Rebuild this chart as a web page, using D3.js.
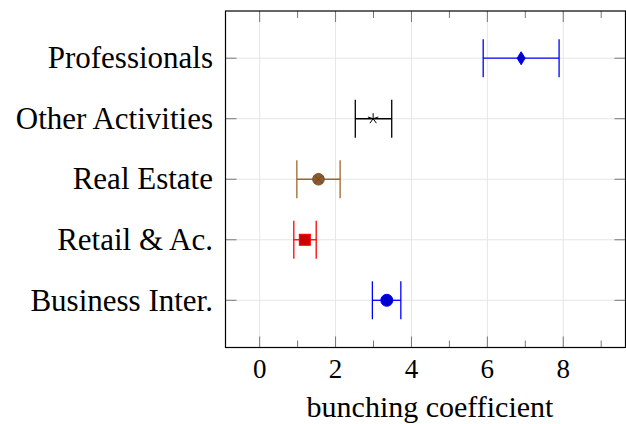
<!DOCTYPE html>
<html lang="en">
  <head>
    <meta charset="UTF-8" />
    <script src="https://d3js.org/d3.v7.min.js"></script>
    <title>bunching coefficient</title>
    <style>
      body { margin: 0; background: #fff; }
    </style>
  </head>
  <body>
    <script>
      // data, bottom to top
      var categories = ['Business Inter.', 'Retail & Ac.', 'Real Estate', 'Other Activities', 'Professionals']
      var estimates = [3.35, 1.19, 1.55, 2.99, 6.89]
      var lower = [2.97, 0.90, 0.98, 2.52, 5.89]
      var upper = [3.72, 1.49, 2.12, 3.48, 7.89]
      var colors = ['#0000ff', '#ff0000', '#a0652e', '#000000', '#0000ff']
      var fills = ['#0000cc', '#cc0000', '#8c5a2b', '#000000', '#0000cc']
      var markers = ['circle', 'square', 'otimes', 'star', 'diamond']
      var xTicks = [0, 2, 4, 6, 8]

      var width = 626
      var height = 424
      var pL = 225.5, pR = 625.5, pT = 11, pB = 347.5
      var serif = "'Liberation Serif', 'DejaVu Serif', serif"

      var svg = d3.select('body').append('svg')
        .attr('width', width).attr('height', height)
        .attr('font-family', serif)

      var x = d3.scaleLinear().domain([-0.9, 9.64]).range([pL, pR])
      var y = d3.scaleLinear().domain([0.22, 5.78]).range([pB, pT])

      var grid = svg.append('g').attr('stroke', '#e6e6e6').attr('stroke-width', 1)
      grid.selectAll('line.gx').data(xTicks).enter().append('line')
        .attr('x1', function (d) { return x(d) }).attr('x2', function (d) { return x(d) })
        .attr('y1', pT).attr('y2', pB)
      grid.selectAll('line.gy').data(categories).enter().append('line')
        .attr('y1', function (d, i) { return y(i + 1) }).attr('y2', function (d, i) { return y(i + 1) })
        .attr('x1', pL).attr('x2', pR)

      // ticks drawn inward on all four sides
      var minor = [1, 3, 5, 7, 9]
      var tk = svg.append('g').attr('stroke', '#777').attr('stroke-width', 1)
      xTicks.forEach(function (d) {
        tk.append('line').attr('x1', x(d)).attr('x2', x(d)).attr('y1', pB).attr('y2', pB - 11)
        tk.append('line').attr('x1', x(d)).attr('x2', x(d)).attr('y1', pT).attr('y2', pT + 11)
      })
      minor.forEach(function (d) {
        tk.append('line').attr('x1', x(d)).attr('x2', x(d)).attr('y1', pB).attr('y2', pB - 7)
        tk.append('line').attr('x1', x(d)).attr('x2', x(d)).attr('y1', pT).attr('y2', pT + 7)
      })
      categories.forEach(function (d, i) {
        tk.append('line').attr('x1', pL).attr('x2', pL + 11).attr('y1', y(i + 1)).attr('y2', y(i + 1))
        tk.append('line').attr('x1', pR).attr('x2', pR - 11).attr('y1', y(i + 1)).attr('y2', y(i + 1))
      })

      svg.append('rect')
        .attr('x', pL).attr('y', pT)
        .attr('width', pR - pL).attr('height', pB - pT)
        .attr('fill', 'none').attr('stroke', '#000').attr('stroke-width', 1.2)

      // tick labels
      svg.selectAll('text.xt').data(xTicks).enter().append('text')
        .attr('x', function (d) { return x(d) })
        .attr('y', 378)
        .attr('text-anchor', 'middle')
        .attr('font-size', 27)
        .text(function (d) { return d })

      svg.selectAll('text.yt').data(categories).enter().append('text')
        .attr('x', 213)
        .attr('y', function (d, i) { return y(i + 1) })
        .attr('dy', '0.33em')
        .attr('text-anchor', 'end')
        .attr('font-size', 31)
        .text(function (d) { return d })

      svg.append('text')
        .attr('x', 430)
        .attr('y', 417)
        .attr('text-anchor', 'middle')
        .attr('font-size', 30)
        .text('bunching coefficient')

      // error bars
      var eb = svg.append('g').selectAll('g').data(categories).enter().append('g')
        .attr('stroke', function (d, i) { return colors[i] })
        .attr('stroke-width', 1.3)
      eb.append('line')
        .attr('x1', function (d, i) { return x(lower[i]) })
        .attr('x2', function (d, i) { return x(upper[i]) })
        .attr('y1', function (d, i) { return y(i + 1) })
        .attr('y2', function (d, i) { return y(i + 1) })
      eb.append('line')
        .attr('x1', function (d, i) { return x(lower[i]) })
        .attr('x2', function (d, i) { return x(lower[i]) })
        .attr('y1', function (d, i) { return y(i + 1) - 19 })
        .attr('y2', function (d, i) { return y(i + 1) + 19 })
      eb.append('line')
        .attr('x1', function (d, i) { return x(upper[i]) })
        .attr('x2', function (d, i) { return x(upper[i]) })
        .attr('y1', function (d, i) { return y(i + 1) - 19 })
        .attr('y2', function (d, i) { return y(i + 1) + 19 })

      // markers
      categories.forEach(function (d, i) {
        var cx = x(estimates[i]), cy = y(i + 1)
        var g = svg.append('g').attr('transform', 'translate(' + cx + ',' + cy + ')')
        var m = markers[i]
        if (m === 'circle') {
          g.append('circle').attr('r', 6).attr('fill', fills[i]).attr('stroke', colors[i])
        } else if (m === 'square') {
          g.append('rect').attr('x', -5.5).attr('y', -5.5).attr('width', 11).attr('height', 11)
            .attr('fill', fills[i]).attr('stroke', colors[i])
        } else if (m === 'otimes') {
          g.append('circle').attr('r', 5.8).attr('fill', fills[i]).attr('stroke', '#7a4e24')
          var r = 5.8 * Math.SQRT1_2
          g.append('path').attr('d', 'M' + -r + ',' + -r + 'L' + r + ',' + r + 'M' + -r + ',' + r + 'L' + r + ',' + -r)
            .attr('stroke', '#6b4420').attr('stroke-width', 0.8)
        } else if (m === 'star') {
          var p = ''
          for (var k = 0; k < 5; k++) {
            var a = -Math.PI / 2 + k * 2 * Math.PI / 5
            p += 'M0,0L' + (5.5 * Math.cos(a)) + ',' + (5.5 * Math.sin(a))
          }
          g.append('path').attr('d', p).attr('stroke', colors[i]).attr('stroke-width', 1)
        } else if (m === 'diamond') {
          g.append('path').attr('d', 'M0,-6.5L4,0L0,6.5L-4,0Z')
            .attr('fill', fills[i]).attr('stroke', colors[i])
        }
      })
    </script>
  </body>
</html>
